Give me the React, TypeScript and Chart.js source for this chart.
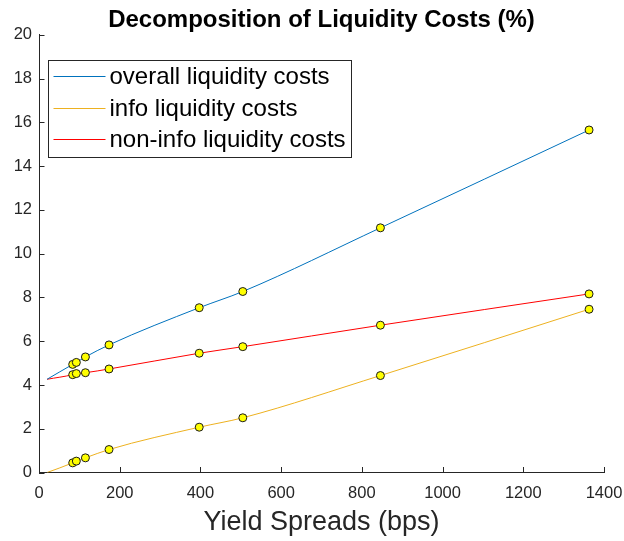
import React, { useEffect, useRef } from "react";
import { Chart, registerables } from "chart.js";

Chart.register(...registerables);

const spreads = [20, 83.5, 92.5, 115, 173.5, 397, 505, 846, 1363];
const overall = [4.26, 4.94, 5.03, 5.28, 5.83, 7.53, 8.27, 11.18, 15.65];
const info = [0, 0.44, 0.52, 0.67, 1.05, 2.07, 2.5, 4.43, 7.46];
const nonInfo = [4.26, 4.47, 4.52, 4.56, 4.73, 5.45, 5.75, 6.73, 8.16];
const seriesNames = ["overall liquidity costs", "info liquidity costs", "non-info liquidity costs"];
const seriesColors = ["#0072BD", "#EDB120", "#FF0000"];
const xTicks = [0, 200, 400, 600, 800, 1000, 1200, 1400];
const yTicks = [0, 2, 4, 6, 8, 10, 12, 14, 16, 18, 20];

const FONT = "'Liberation Sans', Arial, Helvetica, sans-serif";
const AXIS_COLOR = "#262626";

const inwardTicks = {
  id: "inwardTicks",
  afterDraw(chart: any) {
    const { ctx, chartArea, scales } = chart;
    ctx.save();
    ctx.strokeStyle = AXIS_COLOR;
    ctx.lineWidth = 1;
    ctx.beginPath();
    xTicks.forEach((v) => {
      const px = Math.round(scales.x.getPixelForValue(v)) + 0.5;
      ctx.moveTo(px, chartArea.bottom);
      ctx.lineTo(px, chartArea.bottom - 5.5);
    });
    yTicks.forEach((v) => {
      const py = Math.round(scales.y.getPixelForValue(v)) + 0.5;
      ctx.moveTo(chartArea.left, py);
      ctx.lineTo(chartArea.left + 5.5, py);
    });
    ctx.stroke();
    ctx.restore();
  },
};

const boxLegend = {
  id: "boxLegend",
  afterDatasetsDraw(chart: any) {
    const { ctx, chartArea } = chart;
    ctx.save();
    ctx.font = `24px ${FONT}`;
    const maxW = Math.max(...seriesNames.map((n) => ctx.measureText(n).width));
    const x0 = Math.round(chartArea.left + 9) + 0.5;
    const y0 = Math.round(chartArea.top + 25) + 0.5;
    const w = Math.round(61 + maxW + 6);
    const h = 97;
    ctx.fillStyle = "#FFFFFF";
    ctx.fillRect(x0, y0, w, h);
    ctx.strokeStyle = AXIS_COLOR;
    ctx.lineWidth = 1;
    ctx.strokeRect(x0, y0, w, h);
    const rowY = [16, 48, 79];
    seriesNames.forEach((name, i) => {
      const cy = y0 + rowY[i];
      ctx.strokeStyle = seriesColors[i];
      ctx.lineWidth = 1;
      ctx.beginPath();
      ctx.moveTo(x0 + 5, cy);
      ctx.lineTo(x0 + 57, cy);
      ctx.stroke();
      ctx.fillStyle = "#000000";
      ctx.textBaseline = "middle";
      ctx.textAlign = "left";
      ctx.fillText(name, x0 + 61, cy + 1);
    });
    ctx.restore();
  },
};

function makeData(values: number[]) {
  return spreads.map((x, i) => ({ x, y: values[i] }));
}

export default function App() {
  const ref = useRef<HTMLCanvasElement | null>(null);

  useEffect(() => {
    if (!ref.current) return;
    const radii = spreads.map((_, i) => (i === 0 ? 0 : 4));
    const mk = (label: string, values: number[], color: string) => ({
      label,
      data: makeData(values),
      borderColor: color,
      borderWidth: 1,
      backgroundColor: "#FFFF00",
      pointBackgroundColor: "#FFFF00",
      pointBorderColor: "#1a1a1a",
      pointBorderWidth: 1,
      pointRadius: radii,
      pointHoverRadius: radii,
      cubicInterpolationMode: "monotone" as const,
      fill: false,
    });
    const chart = new Chart(ref.current, {
      type: "line",
      data: {
        datasets: [
          mk(seriesNames[0], overall, seriesColors[0]),
          mk(seriesNames[1], info, seriesColors[1]),
          mk(seriesNames[2], nonInfo, seriesColors[2]),
        ],
      },
      options: {
        responsive: false,
        animation: false,
        devicePixelRatio: 1,
        layout: { padding: { left: 0, right: 20, top: 0, bottom: 0 } },
        plugins: {
          legend: { display: false },
          tooltip: { enabled: false },
          title: {
            display: true,
            fullSize: false,
            text: "Decomposition of Liquidity Costs (%)",
            color: "#000000",
            font: { family: FONT, size: 24, weight: "bold" },
            padding: { top: 6, bottom: 0 },
          },
        },
        scales: {
          x: {
            type: "linear",
            min: 0,
            max: 1400,
            afterBuildTicks: (scale: any) => {
              scale.ticks = xTicks.map((v) => ({ value: v }));
            },
            afterFit: (scale: any) => {
              scale.height = 68.5;
              scale.paddingLeft = 0;
              scale.paddingRight = 0;
            },
            grid: { display: false, drawTicks: false },
            border: { display: true, color: AXIS_COLOR, width: 1 },
            ticks: {
              color: AXIS_COLOR,
              font: { family: FONT, size: 16.5 },
              padding: 11,
              maxRotation: 0,
              autoSkip: false,
              callback: (v: any) => String(v),
            },
            title: {
              display: true,
              text: "Yield Spreads (bps)",
              color: AXIS_COLOR,
              font: { family: FONT, size: 27 },
              padding: { top: 0, bottom: 2 },
            },
          },
          y: {
            type: "linear",
            min: 0,
            max: 20,
            afterBuildTicks: (scale: any) => {
              scale.ticks = yTicks.map((v) => ({ value: v }));
            },
            afterFit: (scale: any) => {
              scale.width = 39;
              scale.paddingTop = 0;
              scale.paddingBottom = 0;
            },
            grid: { display: false, drawTicks: false },
            border: { display: true, color: AXIS_COLOR, width: 1 },
            ticks: {
              color: AXIS_COLOR,
              font: { family: FONT, size: 16.5 },
              padding: 7,
              autoSkip: false,
              callback: (v: any) => String(v),
            },
          },
        },
      },
      plugins: [inwardTicks, boxLegend],
    });
    return () => chart.destroy();
  }, []);

  return (
    <div style={{ position: "absolute", left: 0, top: 0, width: 624, height: 541, background: "#fff" }}>
      <canvas ref={ref} width={624} height={541} style={{ width: 624, height: 541 }} />
    </div>
  );
}
